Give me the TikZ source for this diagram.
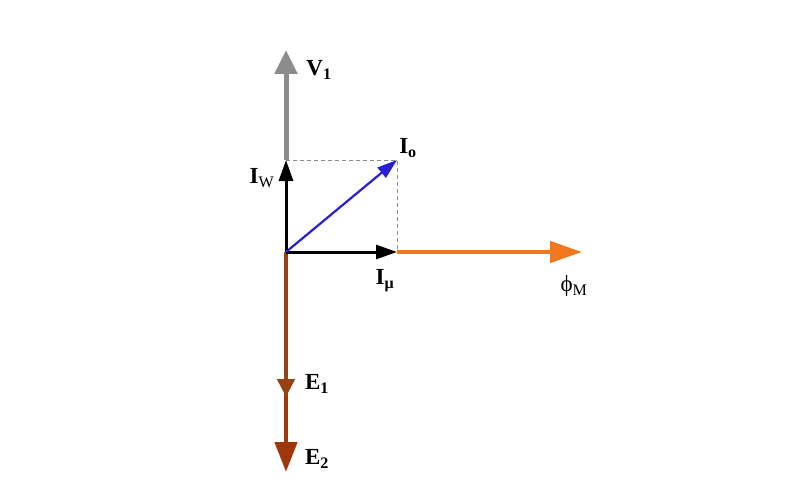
\documentclass[tikz,border=0pt]{standalone}
\usepackage{fontspec}
\setmainfont{Liberation Serif}
\usetikzlibrary{arrows.meta}
\definecolor{vgray}{RGB}{140,140,140}
\definecolor{iblue}{RGB}{40,30,210}
\definecolor{phor}{RGB}{240,120,30}
\definecolor{ebrown}{RGB}{150,65,20}
\definecolor{ebrown2}{RGB}{160,55,10}
\begin{document}
\begin{tikzpicture}[x=1pt,y=-1pt,
  lbl/.style={font=\fontsize{23}{26}\selectfont\bfseries, inner sep=0pt},
  lblr/.style={font=\fontsize{23}{26}\selectfont, inner sep=0pt}]
\useasboundingbox (0,0) rectangle (800,500);
\coordinate (O) at (286,252);
\coordinate (V) at (286,50);
\coordinate (W) at (286,160);
\coordinate (P) at (397,160);
\coordinate (M) at (397,252);
\coordinate (F) at (582,252);
\coordinate (E1) at (286,397);
\coordinate (E2) at (286,472);
% dashed projections
\draw[vgray, line width=0.8pt, dash pattern=on 4pt off 3pt] (W) -- (P) -- (M);
% V1
\draw[vgray, line width=5pt, -{Triangle[length=24pt,width=22pt]}] (W) -- (V);
% E
\draw[ebrown, line width=4.5pt] (O) -- (E1);
\draw[ebrown, line width=4.5pt, -{Triangle[length=18pt,width=17pt]}] (O) -- (E1);
\draw[ebrown2, line width=4.5pt, -{Triangle[length=30pt,width=22pt]}] (E1) -- (E2);
% phi
\draw[phor, line width=4.5pt, -{Triangle[length=32pt,width=21pt]}] (M) -- (F);
% Iw and Imu
\draw[black, line width=3pt, -{Triangle[length=21pt,width=14pt]}] (O) -- (W);
\draw[black, line width=3pt, -{Triangle[length=21pt,width=14pt]}] (O) -- (M);
% Io
\draw[iblue, line width=2.2pt, -{Triangle[length=20pt,width=13pt]}] (O) -- (P);
% labels
\node[lbl] (lV) at (319,70) {V\textsubscript{1}};
\node[lbl] (lIo) at (408,148) {I\textsubscript{o}};
\node[lbl] (lIw) at (262,178) {I\textsubscript{\mdseries W}};
\node[lbl] (lImu) at (385,281) {I\textsubscript{μ}};
\node[lblr] (lphi) at (574,286) {ϕ\textsubscript{M}};
\node[lbl] (lE1) at (317,384) {E\textsubscript{1}};
\node[lbl] (lE2) at (317,459) {E\textsubscript{2}};
\end{tikzpicture}
\end{document}
